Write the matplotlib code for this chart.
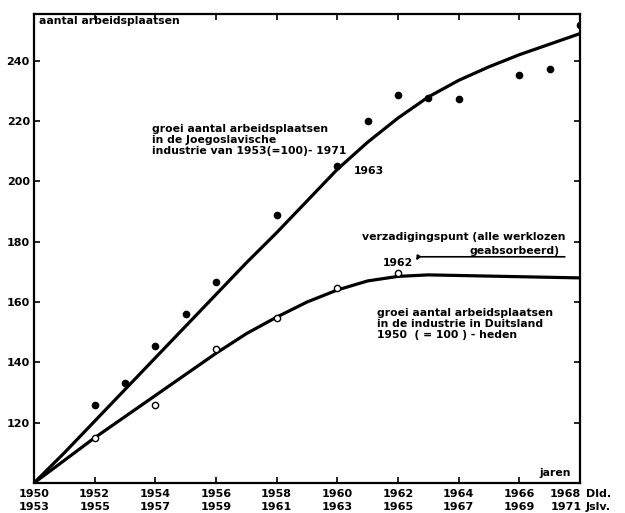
import matplotlib.pyplot as plt

# measured points (index, 1950 = 100 resp. 1953 = 100), x = German year axis
yu_years = [1952, 1953, 1954, 1955, 1956, 1958, 1960, 1961, 1962, 1963, 1964, 1966, 1967, 1968]
yu_vals = [125.8, 133.1, 145.4, 156.0, 166.6, 188.7, 205.0, 220.0, 228.8, 227.8, 227.4, 235.2, 237.2, 252.0]

de_years = [1952, 1954, 1956, 1958, 1960, 1962]
de_vals = [114.9, 125.8, 144.4, 154.6, 164.6, 169.5]

curve_years = list(range(1950, 1969))
yu_curve = [100, 110, 120.5, 131, 141.5, 152, 162.5, 173, 183, 193.5, 204,
            213, 221, 228, 233.5, 238, 242, 245.5, 249]
de_curve = [100, 107.5, 115, 122, 129, 136, 143, 149.5, 155, 160, 164,
            167, 168.5, 169, 168.8, 168.6, 168.4, 168.2, 168]

x_ticks = list(range(1950, 1969, 2))
x_labels_dld = [str(y) for y in x_ticks]
x_labels_jslv = [str(y + 3) for y in x_ticks]
y_ticks = [120, 140, 160, 180, 200, 220, 240]

fig = plt.figure(figsize=(6.25, 5.13), dpi=100)
ax = fig.add_axes([0.0544, 0.0585, 0.8736, 0.9142])

ax.plot(curve_years, yu_curve, color='black', lw=2.3, solid_capstyle='round')
ax.plot(curve_years, de_curve, color='black', lw=2.3, solid_capstyle='round')
ax.plot(yu_years, yu_vals, 'o', color='black', ms=4.5)
ax.plot(de_years, de_vals, 'o', mfc='white', mec='black', mew=1.0, ms=4.5)

ax.set_xlim(1950, 1968)
ax.set_ylim(100, 255.5)
for s in ax.spines.values():
    s.set_linewidth(1.6)

ax.set_xticks(x_ticks)
ax.set_xticklabels([])
ax.set_yticks(y_ticks)
ax.set_yticklabels([str(v) for v in y_ticks], fontsize=8, fontweight='bold')
ax.tick_params(direction='in', length=4, width=1.2, pad=3,
               top=True, right=True)

# two rows of year labels
lkw = dict(fontsize=8, fontweight='bold', va='top', annotation_clip=False,
           textcoords='offset points')
for x, a, b in zip(x_ticks, x_labels_dld, x_labels_jslv):
    if x == x_ticks[-1]:
        ax.annotate(a, (x, 100), xytext=(1, -4), ha='right', **lkw)
        ax.annotate(b, (x, 100), xytext=(1, -14), ha='right', **lkw)
    else:
        ax.annotate(a, (x, 100), xytext=(0, -4), ha='center', **lkw)
        ax.annotate(b, (x, 100), xytext=(0, -14), ha='center', **lkw)
ax.annotate('Dld.', (1968, 100), xytext=(4, -4), ha='left', **lkw)
ax.annotate('Jslv.', (1968, 100), xytext=(4, -14), ha='left', **lkw)

tkw = dict(fontsize=7.8, fontweight='bold', color='black')
ax.text(1950.15, 253.3, 'aantal arbeidsplaatsen', ha='left', va='center', **tkw)
ax.text(1967.7, 103.4, 'jaren', ha='right', va='center', **tkw)

ax.text(1953.9, 219.0, 'groei aantal arbeidsplaatsen\nin de Joegoslavische\nindustrie van 1953(=100)- 1971',
        ha='left', va='top', linespacing=1.1, **tkw)
ax.text(1960.55, 203.5, '1963', ha='left', va='center', **tkw)

ax.text(1960.8, 181.6, 'verzadigingspunt (alle werklozen', ha='left', va='center', **tkw)
ax.text(1964.35, 177.0, 'geabsorbeerd)', ha='left', va='center', **tkw)
ax.annotate('', xy=(1962.6, 173.8), xytext=(1967.5, 175.0),
            arrowprops=dict(arrowstyle='-|>', color='black', lw=1.2,
                            mutation_scale=6, shrinkA=0, shrinkB=0,
                            connectionstyle='angle,angleA=0,angleB=60,rad=0'))
ax.text(1961.5, 172.9, '1962', ha='left', va='center', **tkw)

ax.text(1961.3, 158.0, 'groei aantal arbeidsplaatsen\nin de industrie in Duitsland\n1950  ( = 100 ) - heden',
        ha='left', va='top', linespacing=1.1, **tkw)

fig.savefig('out.png', dpi=100)
